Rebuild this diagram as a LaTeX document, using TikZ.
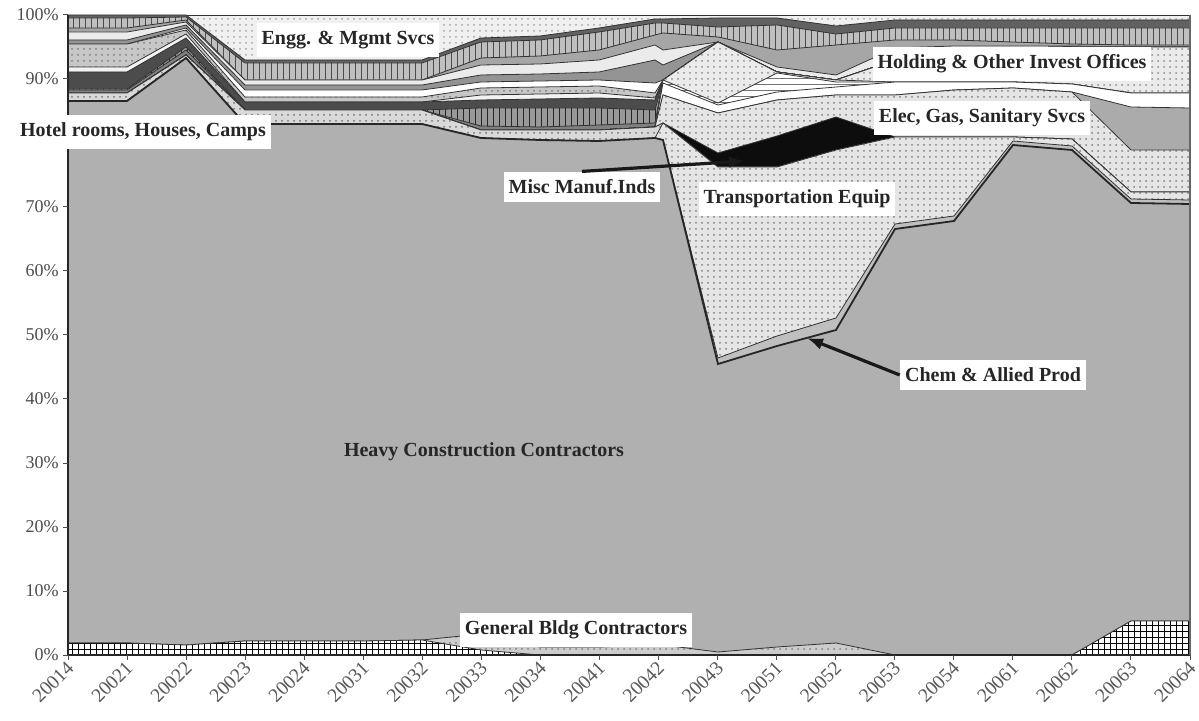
\documentclass[tikz,border=0pt]{standalone}
\usepackage{fontspec}
\setmainfont{Liberation Serif}
\usetikzlibrary{patterns,arrows.meta}
\def\Xs{{68,127,186,245,304,363,422,481,540,599,655,663,718,777,836,895,954,1013,1072,1131,1190}}
\newcommand\stlayer[2]{\path[#1] (68,655) \foreach \yy [count=\ii from 0] in {#2} { -- ({\Xs[\ii]},\yy) } -- (1190,655) -- cycle;}
\definecolor{heavyc}{gray}{0.69}
\begin{document}
\begin{tikzpicture}[x=0.5pt,y=-0.5pt,
  lay/.style={draw=black!80, line width=0.4pt},
  solidarea/.style={lay, fill=#1},
  dotarea/.style 2 args={lay, preaction={fill=#1}, pattern=dots, pattern color=#2},
  vharea/.style 2 args={lay, preaction={fill=#1}, pattern=vertical lines, pattern color=#2},
  hharea/.style 2 args={lay, preaction={fill=#1}, pattern=horizontal lines, pattern color=#2},
  lbl/.style={fill=white, font=\fontsize{10}{12}\selectfont\bfseries, text=black!85, inner xsep=2.5pt, inner ysep=4pt},
  ticklbl/.style={font=\fontsize{9}{10}\selectfont, text=black!70, inner sep=1pt},
  xticklbl/.style={font=\fontsize{9.8}{11}\selectfont, text=black!65, inner sep=1pt},
  ptr/.style={line width=1.6pt, black!90, -{Latex[length=8pt,width=6pt]}}
]
\useasboundingbox (0,0) rectangle (1199,721);
\fill[white] (0,0) rectangle (1199,721);
% top-most series (Engg & Mgmt Svcs)
\path[dotarea={black!6}{black!35}] (68,15) rectangle (1190,655);
% stacked series, drawn from the top down
\stlayer{solidarea=black!62}{15,15,15,60,60,60,60,38,36,28,19,19,18,18,26,20,20,20,20,20,20}
\stlayer{vharea={black!25}{black!70}}{18,18,17,63,63,63,63,42,40,32,23,23,27,25,34,28,28,28,28,28,28}
\stlayer{solidarea=black!35}{28,28,20,80,80,80,80,58,56,50,35,33,37,50,45,40,40,42,44,45,45}
\stlayer{solidarea=black!8}{32,32,22,80,80,80,80,65,64,60,45,50,42,67,75,48,46,46,46,47,47}
\stlayer{solidarea=black!42}{40,40,25,85,85,85,85,75,74,72,60,65,42,72,80,60,50,48,47,47,47}
\stlayer{solidarea=white}{44,44,28,90,90,90,90,82,81,80,83,80,42,72,80,60,50,48,47,47,47}
\stlayer{dotarea={black!22}{black!50}}{44,44,30,97,97,97,97,88,87,86,93,80,42,72,80,60,50,48,47,47,47}
\stlayer{solidarea=black!5}{67,67,34,102,102,102,102,95,94,93,98,80,42,72,80,60,50,48,47,47,47}
\stlayer{solidarea=black!70}{72,72,38,102,102,102,102,100,99,98,100,80,42,72,80,60,50,48,47,47,47}
\stlayer{vharea={black!40}{black!85}}{89,89,47,110,110,110,110,108,108,108,110,80,42,72,80,60,50,48,47,47,47}
\stlayer{solidarea=black!50}{90,90,50,110,110,110,110,126,127,125,123,80,42,72,80,60,50,48,47,47,47}
\stlayer{dotarea={black!8}{black!45}}{93,93,55,110,110,110,110,130,130,130,127,80,42,72,80,60,50,48,47,47,47}
\stlayer{dotarea={black!8}{black!45}}{93,93,55,110,110,110,110,130,130,130,127,80,42,72,80,82,82,82,84,93,93}
\stlayer{hharea={white}{black!55}}{93,93,55,110,110,110,110,130,130,130,127,80,103,73,82,82,82,82,84,93,93}
\stlayer{solidarea=white}{93,93,55,110,110,110,110,130,130,130,127,83,105,92,87,82,82,82,84,93,93}
\stlayer{solidarea=black!33}{93,93,55,110,110,110,110,130,130,130,127,95,113,100,95,95,90,88,92,107,108}
\stlayer{dotarea={black!10}{black!50}}{93,93,55,110,110,110,110,130,130,130,127,95,113,100,95,95,90,88,92,150,150}
\stlayer{solidarea=black!95}{93,93,55,110,110,110,110,130,130,130,127,123,153,136,117,137,137,137,139,192,192}
\stlayer{dotarea={black!15}{black!55}}{93,93,55,110,110,110,110,130,130,130,127,123,167,167,150,137,137,137,139,192,192}
\stlayer{dotarea={black!10}{black!50}}{101,101,58,124,124,124,124,138,140,141,138,123,167,167,150,137,137,137,139,192,192}
\stlayer{solidarea=black!25}{101,101,58,124,124,124,124,138,140,141,138,140,358,336,318,224,216,141,146,199,200}
\stlayer{fill=heavyc, draw=black!85, line width=0.9pt}{101,101,58,124,124,124,124,138,140,141,138,140,364,346,330,229,221,145,150,203,204}
\stlayer{dotarea={black!20}{black!50}}{643,643,645,641,641,641,640,634,647,647,645,645,652,647,643,655,655,655,655,621,621}
\stlayer{lay, preaction={fill=white}, pattern=grid, pattern color=black}{643,643,645,641,641,641,640,650,655,655,655,655,655,655,655,655,655,655,655,621,621}
% axes
\draw[black!85, line width=0.8pt] (68,15) -- (68,655) -- (1190,655);
\draw[black!60, line width=0.6pt] (1190,15) -- (1190,655);
\foreach \p in {0,...,10} {
  \draw[black!70, line width=0.5pt] (63,{655-64*\p}) -- (68,{655-64*\p});
}
\foreach \p/\t in {0/0,1/10,2/20,3/30,4/40,5/50,6/60,7/70,8/80,9/90,10/100} {
  \node[ticklbl, anchor=east] (yl\p) at (61,{655-64*\p}) {\t\%};
}
\foreach \lab [count=\i from 0] in {20014,20021,20022,20023,20024,20031,20032,20033,20034,20041,20042,20043,20051,20052,20053,20054,20061,20062,20063,20064} {
  \draw[black!70, line width=0.5pt] ({68+59.053*\i},655) -- ({68+59.053*\i},660);
  \node[xticklbl, rotate=45, anchor=east] (xl\i) at ({72+59.053*\i},663) {\lab};
}
% labels
\node[lbl] (engg) at (348,40) {Engg. \& Mgmt Svcs};
\node[lbl] (hotel) at (143,132) {Hotel rooms, Houses, Camps};
\node[lbl] (misc) at (582,187) {Misc Manuf.Inds};
\node[lbl] (trans) at (797,199) {Transportation Equip};
\node[lbl] (hold) at (1012,64) {Holding \& Other Invest Offices};
\node[lbl] (elec) at (982,118) {Elec, Gas, Sanitary Svcs};
\node[lbl] (chem) at (993,375) {Chem \& Allied Prod};
\node[lbl, fill=none] (heavy) at (484,452) {Heavy Construction Contractors};
\node[lbl] (genb) at (576,630) {General Bldg Contractors};
% pointers
\coordinate (miscpt) at (745,161);
\coordinate (chempt) at (807,338);
\draw[ptr] (misc.north) -- (miscpt);
\draw[ptr] (chem.west) -- (chempt);
\end{tikzpicture}
\end{document}
